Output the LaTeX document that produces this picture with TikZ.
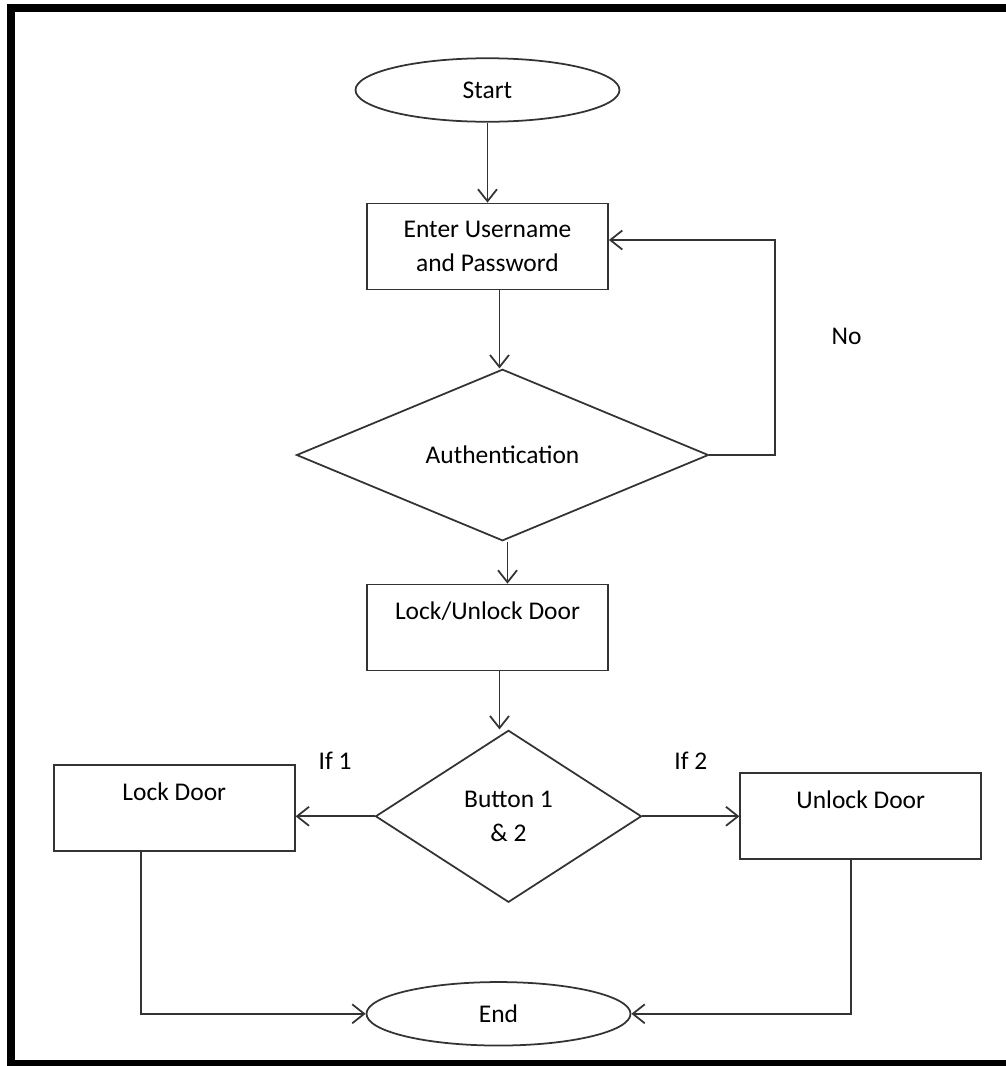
\documentclass[tikz,border=0pt]{standalone}
\usepackage{fontspec}
\setmainfont{Carlito}
\usetikzlibrary{positioning, arrows.meta, shapes.geometric, calc}

\begin{document}
\begin{tikzpicture}[
    font=\fontsize{14.5}{19.3}\selectfont,
    >={Straight Barb[length=2.4mm, width=3.8mm]},
    termstyle/.style={ellipse, draw=black!80, line width=1pt,
        minimum width=5.28cm, minimum height=1.27cm, inner sep=0pt},
    procstyle/.style={rectangle, draw=black!80, line width=1pt,
        minimum width=4.82cm, minimum height=1.72cm, align=center},
    decstyle/.style={diamond, draw=black!80, line width=1pt,
        inner sep=0pt, align=center},
    flow/.style={->, draw=black!80, line width=1pt},
    framestyle/.style={draw=black, line width=0.16cm}
  ]
    \useasboundingbox (0,0) rectangle (20.12,-21.32);
    \draw[framestyle] (20.5,-0.16) -- (0.21,-0.16) -- (0.21,-21.28) -- (20.5,-21.28);

    % main column
    \node[termstyle] (start) at (9.75,-1.8) {Start};
    \node[procstyle, below=1.6cm of start] (enter) {Enter Username\\and Password};
    \node[decstyle, minimum width=8.24cm, minimum height=3.4cm,
        below=1.56cm of enter, xshift=0.3cm] (auth) {Authentication};
    \node[procstyle, below=0.84cm of auth, xshift=-0.3cm] (lockunlock) {Lock/Unlock Door\\\mbox{}};
    \node[decstyle, minimum width=5.32cm, minimum height=3.44cm,
        below=1.16cm of lockunlock, xshift=0.42cm] (button) {Button 1\\\& 2};
    % branches
    \node[procstyle, left=1.58cm of button, yshift=0.16cm] (lock) {Lock Door\\\mbox{}};
    \node[procstyle, right=1.94cm of button] (unlock) {Unlock Door\\\mbox{}};
    \node[termstyle, below=1.56cm of button, xshift=-0.2cm] (finish) {End};

    \draw[flow] (start) -- (enter);
    \draw[flow] ([xshift=0.24cm]enter.south) -- ([xshift=0.24cm]enter.south |- auth.north);
    \draw[flow] ([xshift=0.1cm]auth.south) -- ([xshift=0.1cm]auth.south |- lockunlock.north);
    \draw[flow] ([xshift=0.24cm]lockunlock.south) -- ([xshift=0.24cm]lockunlock.south |- button.north);
    % retry loop
    \coordinate (loop) at (15.5,-4.8);
    \draw[flow] (auth.east) -- (auth.east -| loop)
        -- node[right=1cm, pos=0.55] {No} (loop) -- (enter.east |- loop);
    \draw[flow] (button.west) -- node[above=0.8cm] {If 1} (button.west -| lock.east);
    \draw[flow] (button.east) -- node[above=0.8cm] {If 2} (button.east -| unlock.west);
    \draw[flow] ([xshift=-0.66cm]lock.south) |- (finish.west);
    \draw[flow] ([xshift=-0.2cm]unlock.south) |- (finish.east);
\end{tikzpicture}
\end{document}
